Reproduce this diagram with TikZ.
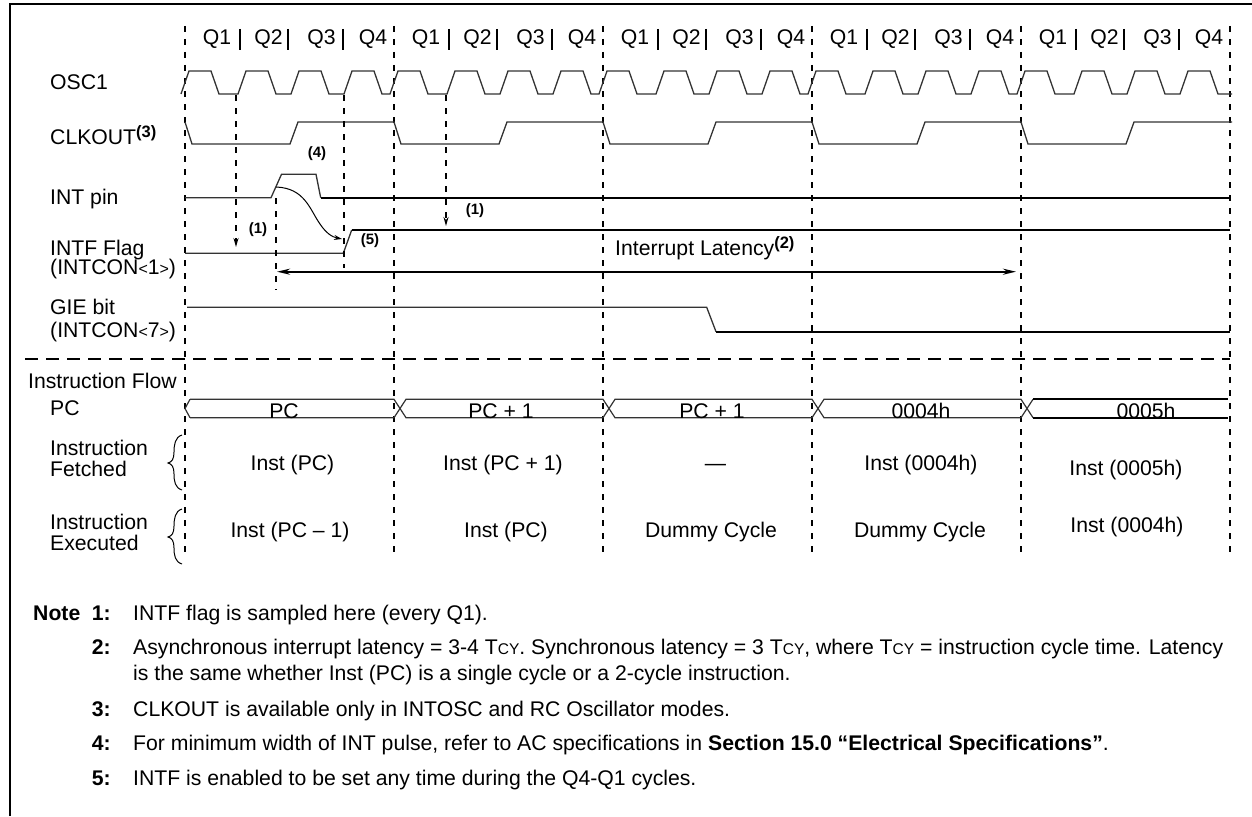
\documentclass[tikz,border=0pt]{standalone}
\usepackage{fontspec}
\setmainfont{Liberation Sans}
\usetikzlibrary{arrows.meta}
\newcommand{\tcy}{T{\fontsize{15.5}{15.5}\selectfont CY}}
\newcommand{\mysup}[1]{\raisebox{7pt}{\fontsize{16.5}{16.5}\selectfont\bfseries #1}}
\newcommand{\sml}[1]{{\fontsize{16}{16}\selectfont #1}}
\begin{document}
\begin{tikzpicture}[x=1pt,y=-1pt,
  txt/.style={font=\fontsize{21.2}{22}\selectfont, inner sep=0pt},
  lab/.style={txt, anchor=base west},
  ctr/.style={txt, anchor=base},
  refl/.style={font=\fontsize{15}{15}\selectfont\bfseries, inner sep=0pt, anchor=base},
  wave/.style={line width=1.3pt, draw=black!80, line join=miter},
  thickwave/.style={line width=1.8pt, draw=black, line join=miter},
  cyc/.style={line width=1.8pt, dash pattern=on 6pt off 7pt},
  samp/.style={line width=1.8pt, dash pattern=on 6pt off 7pt},
  hdash/.style={line width=1.8pt, dash pattern=on 13pt off 8pt},
  frame/.style={line width=2.5pt},
  qbar/.style={line width=2pt},
  bus/.style={line width=1.2pt, draw=black!80},
]
\useasboundingbox (0,0) rectangle (1252,816);
% frame
\draw[frame] (10,816) -- (10,4) -- (1252,4);

% cycle boundaries
\foreach \b in {185,394,603,812,1021,1230}
  \draw[cyc] (\b,26) -- (\b,553);

% Q header
\foreach \b [count=\c] in {185,394,603,812,1021} {
  \node[ctr] (q1c\c) at (\b+32,45) {Q1};
  \node[ctr] (q2c\c) at (\b+83.5,45) {Q2};
  \node[ctr] (q3c\c) at (\b+136.5,45) {Q3};
  \node[ctr] (q4c\c) at (\b+188,45) {Q4};
  \draw[qbar] (\b+55,29) -- (\b+55,50);
  \draw[qbar] (\b+103,29) -- (\b+103,50);
  \draw[qbar] (\b+158,29) -- (\b+158,50);
}

% signal labels
\node[lab] (osc) at (50,89) {OSC1};
\node[lab] (clk) at (50,144) {CLKOUT\mysup{(3)}};
\node[lab] (intpin) at (50,204) {INT pin};
\node[lab] (intf1) at (50,255) {INTF Flag};
\node[lab] (intf2) at (50,274) {(INTCON\sml{<}1\sml{>})};
\node[lab] (gie1) at (50,314) {GIE bit};
\node[lab] (gie2) at (50,337) {(INTCON\sml{<}7\sml{>})};
\node[lab] (iflow) at (28,388) {Instruction Flow};
\node[lab] (pcl) at (50,415) {PC};
\node[lab] (if1) at (50,455) {Instruction};
\node[lab] (if2) at (50,476) {Fetched};
\node[lab] (ie1) at (50,529) {Instruction};
\node[lab] (ie2) at (50,550) {Executed};

% OSC1
\draw[wave] (181,94)
  \foreach \p in {185,242,295,348,394,451,504,557,603,660,713,766,812,869,922,975,1021,1078,1131,1184}
  { -- ({\p-4},94) -- ({\p+4},71) -- ({\p+26},71) -- ({\p+34},94) } -- (1232,94);

% CLKOUT
\draw[wave] (185,122)
  \foreach \b in {185,394,603,812,1021}
  { -- ({\b+7},144) -- ({\b+105},144) -- ({\b+113},122) -- ({\b+209},122) } -- (1232,122);

% INT pin
\draw[wave] (185,197.7) -- (271,197.7) -- (281.5,174.3) -- (316,174.3) -- (320.7,197.7);
\draw[thickwave] (320.7,197.7) -- (1230,197.7);

% INTF flag
\draw[wave] (185,253.3) -- (343.3,253.3) -- (351.7,230);
\draw[thickwave] (351.7,230) -- (1230,230);

% GIE bit
\draw[wave] (187,307.3) -- (706.7,307.3) -- (716,331.7);
\draw[thickwave] (716,331.7) -- (1230,331.7);

% horizontal separator
\draw[hdash] (25,359) -- (1230,359);

% PC bus
\draw[bus] (190,399.3) -- (185,408.5) -- (190,417.7);
\draw[bus] (190,399.3) -- (394,399.3) -- (406,417.7) -- (603,417.7) -- (615,399.3) -- (812,399.3) -- (824,417.7) -- (1021,417.7) -- (1033,399.3);
\draw[bus] (190,417.7) -- (394,417.7) -- (406,399.3) -- (603,399.3) -- (615,417.7) -- (812,417.7) -- (824,399.3) -- (1021,399.3) -- (1033,417.7);
\draw[thickwave] (1033,399.3) -- (1228,399.3);
\draw[thickwave] (1033,417.7) -- (1228,417.7);
\node[ctr] (pc1) at (284,418) {PC};
\node[ctr] (pc2) at (501,418) {PC + 1};
\node[ctr] (pc3) at (712,418) {PC + 1};
\node[ctr] (pc4) at (921,418) {0004h};
\node[ctr] (pc5) at (1146,418) {0005h};

% braces
\draw[line width=1pt] (182,435) .. controls (175,437) and (174,445) .. (174,452) .. controls (174,459) and (172,462) .. (168,463) .. controls (172,464) and (174,467) .. (174,474) .. controls (174,481) and (175,488) .. (182,490);
\draw[line width=1pt] (182,509) .. controls (175,511) and (174,519) .. (174,526) .. controls (174,533) and (172,536) .. (168,537) .. controls (172,538) and (174,541) .. (174,548) .. controls (174,555) and (175,562) .. (182,564);

% fetched
\node[ctr] (f1) at (292.5,470) {Inst (PC)};
\node[ctr] (f2) at (503,470) {Inst (PC + 1)};
\node[ctr] (f3) at (715.5,470) {\textemdash};
\node[ctr] (f4) at (921,470) {Inst (0004h)};
\node[ctr] (f5) at (1126,475) {Inst (0005h)};
% executed
\node[ctr] (e1) at (290,537) {Inst (PC – 1)};
\node[ctr] (e2) at (506,537) {Inst (PC)};
\node[ctr] (e3) at (711,537) {Dummy Cycle};
\node[ctr] (e4) at (920,537) {Dummy Cycle};
\node[ctr] (e5) at (1127,532) {Inst (0004h)};

% sample markers
\coordinate (s1a) at (236,95);  \coordinate (s1b) at (236,247);
\coordinate (s2a) at (276,198); \coordinate (s2b) at (276,290);
\coordinate (s3a) at (344,95);  \coordinate (s3b) at (344,268);
\coordinate (s4a) at (446,95);  \coordinate (s4b) at (446,226);
\draw[samp,-{Stealth[length=9pt,width=5pt]}] (s1a) -- (s1b);
\draw[samp] (s2a) -- (s2b);
\draw[samp] (s3a) -- (s3b);
\draw[samp,-{Stealth[length=9pt,width=5pt]}] (s4a) -- (s4b);

% curved arrow INT -> INTF
\coordinate (ca) at (276,187);
\coordinate (cb) at (342,239);
\draw[line width=1pt,-{Stealth[length=8pt,width=5pt]}] (ca) .. controls (305,188) and (310,210) .. (320,224) .. controls (326,233) and (332,237) .. (cb);

% latency arrow
\coordinate (la) at (277,271.7);
\coordinate (lb) at (1016,271.7);
\draw[line width=2pt,{Stealth[length=13pt,width=6pt]}-{Stealth[length=13pt,width=6pt]}] (la) -- (lb);
\node[lab] (lat) at (615,255) {Interrupt Latency\mysup{(2)}};

% reference labels
\node[refl] (r1a) at (258,233) {(1)};
\node[refl] (r1b) at (475,214) {(1)};
\node[refl] (r4) at (317,157) {(4)};
\node[refl] (r5) at (370,244) {(5)};

% notes
\node[lab, font=\fontsize{21.2}{22}\selectfont\bfseries] (note) at (33,620) {Note};
\foreach \n/\y in {1/620,2/654,3/716,4/750,5/785}
  \node[txt, anchor=base east, font=\fontsize{21.2}{22}\selectfont\bfseries] (nn\n) at (111,\y) {\n:};
\node[lab] (t1) at (133,620) {INTF flag is sampled here (every Q1).};
\node[lab] (t2) at (133,654) {Asynchronous interrupt latency = 3-4 \tcy. Synchronous latency = 3 \tcy, where \tcy{} = instruction cycle time. Latency};
\node[lab] (t2b) at (133,680) {is the same whether Inst (PC) is a single cycle or a 2-cycle instruction.};
\node[lab] (t3) at (133,716) {CLKOUT is available only in INTOSC and RC Oscillator modes.};
\node[lab] (t4) at (133,750) {For minimum width of INT pulse, refer to AC specifications in \textbf{Section 15.0 “Electrical Specifications”}.};
\node[lab] (t5) at (133,785) {INTF is enabled to be set any time during the Q4-Q1 cycles.};
\end{tikzpicture}
\end{document}
